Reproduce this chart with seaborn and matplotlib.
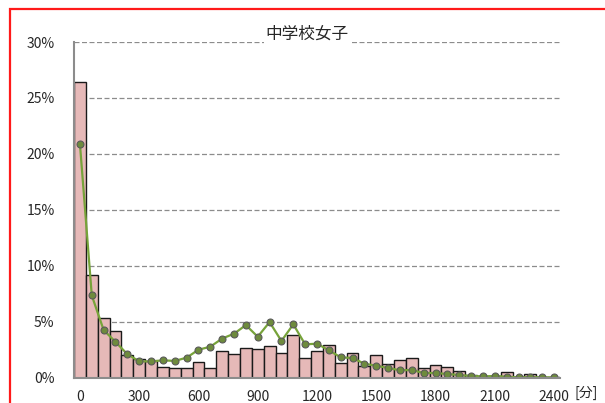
import matplotlib
matplotlib.use("Agg")
import matplotlib.pyplot as plt
import matplotlib.patches as mpatches
import numpy as np
import pandas as pd
import seaborn as sns

# minutes per bin (0, 60, ..., 2400)
minutes = list(range(0, 2401, 60))

# share of students per bin (%) - bars
bar_pct = [26.4, 9.2, 5.36, 4.14, 2.05, 1.67, 1.5, 0.98, 0.9, 0.9,
           1.4, 0.9, 2.38, 2.1, 2.68, 2.6, 2.83, 2.17, 3.8, 1.73,
           2.38, 2.92, 1.34, 2.18, 1.04, 2.0, 1.19, 1.55, 1.73, 0.83,
           1.1, 0.93, 0.6, 0.2, 0.15, 0.18, 0.48, 0.1, 0.36, 0.05, 0.03]

# comparison line (%)
line_pct = [20.9, 7.35, 4.26, 3.2, 2.1, 1.46, 1.46, 1.55, 1.5, 1.79,
            2.5, 2.77, 3.5, 3.93, 4.7, 3.66, 4.97, 3.28, 4.77, 2.98,
            3.04, 2.45, 1.82, 1.76, 1.25, 1.07, 0.87, 0.66, 0.69, 0.42,
            0.42, 0.33, 0.24, 0.15, 0.12, 0.15, 0.09, 0.03, 0.06, 0.03, 0.03]

title = "中学校女子"
unit_label = "[分]"

sns.set_style("white")
plt.rcParams["font.family"] = ["Noto Sans CJK JP", "DejaVu Sans"]

df = pd.DataFrame({"pos": np.arange(len(minutes)), "bar": bar_pct, "line": line_pct})

fig = plt.figure(figsize=(6.05, 4.03), dpi=100)
ax = fig.add_axes([74 / 605, 1 - 377.7 / 403, (560 - 74) / 605, (377.7 - 42) / 403])

sns.barplot(data=df, x="pos", y="bar", color="#E6B9B8", saturation=1,
            width=1.0, edgecolor="#1a1a1a", linewidth=1.0, ax=ax, zorder=2)
sns.lineplot(data=df, x="pos", y="line", color="#77A33A", linewidth=1.6,
             marker="o", markersize=5, markerfacecolor="#6E8B3D",
             markeredgecolor="#5a5a5a", markeredgewidth=0.8, ax=ax, zorder=3)

ax.set_xlim(-0.5, len(minutes) - 0.5)
ax.set_ylim(0, 30)
ax.set_yticks(np.arange(0, 31, 5))
ax.set_yticklabels([f"{v}%" for v in range(0, 31, 5)], fontsize=10)
ax.set_xticks(np.arange(0, len(minutes), 5))
ax.set_xticklabels([str(m) for m in minutes[::5]], fontsize=10)
ax.set_xticks(np.arange(-0.5, len(minutes), 1), minor=True)
ax.tick_params(axis="x", which="major", length=0, pad=9)
ax.tick_params(axis="x", which="minor", length=4, color="#8c8c8c", width=1.2, direction="out")
ax.tick_params(axis="y", length=5, color="#8c8c8c", width=1.2, direction="out", pad=9)
ax.set_xlabel("")
ax.set_ylabel("")

for v in range(5, 31, 5):
    ax.axhline(v, color="#8c8c8c", linestyle=(0, (4, 2)), linewidth=0.9, zorder=1)

for s in ["top", "right"]:
    ax.spines[s].set_visible(False)
for s in ["left", "bottom"]:
    ax.spines[s].set_color("#8c8c8c")
    ax.spines[s].set_linewidth(1.5)
    ax.spines[s].set_zorder(4)

fig.text(307 / 605, 1 - 34 / 403, title, ha="center", va="center", fontsize=12,
         bbox=dict(facecolor="white", edgecolor="none", pad=1))
fig.text(574 / 605, 1 - 393 / 403, unit_label, ha="left", va="center", fontsize=10)

border = mpatches.Rectangle((10 / 605, -0.02), 1.0, 1 - 9 / 403 + 0.02,
                            transform=fig.transFigure, fill=False,
                            edgecolor="#ff1a1a", linewidth=1.6)
fig.patches.append(border)

fig.savefig("out.png", dpi=100)
